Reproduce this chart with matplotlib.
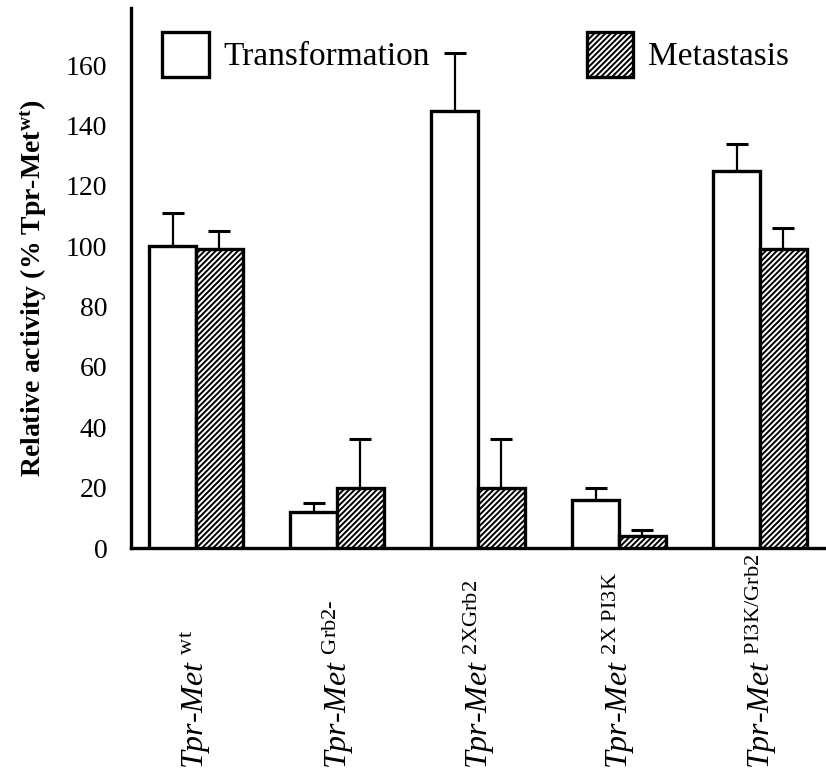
import numpy as np
import matplotlib
matplotlib.use("Agg")
from matplotlib import pyplot as plt
from matplotlib.patches import Patch

plt.rcParams['font.family'] = ['Liberation Serif', 'DejaVu Serif']
plt.rcParams['mathtext.fontset'] = 'custom'
plt.rcParams['mathtext.rm'] = 'Liberation Serif'
plt.rcParams['mathtext.bf'] = 'Liberation Serif:bold'
plt.rcParams['mathtext.it'] = 'Liberation Serif:italic'
plt.rcParams['hatch.linewidth'] = 1.4

constructs = ["wt", "Grb2-", "2XGrb2", "2X PI3K", "PI3K/Grb2"]
transformation = [100, 12, 145, 16, 125]
transformation_err = [11, 3, 19, 4, 9]
metastasis = [99, 20, 20, 4, 99]
metastasis_err = [6, 16, 16, 2, 7]
yticks = [0, 20, 40, 60, 80, 100, 120, 140, 160]

fig = plt.figure(figsize=(8.26, 7.76), dpi=100)
ax = fig.add_axes([0.1586, 0.2938, 0.8414, 0.6959])

x = np.arange(len(constructs))
w = 0.333
lw = 2.4
ax.bar(x - w / 2, transformation, w, color='white', edgecolor='black', linewidth=lw,
       yerr=[[0] * 5, transformation_err], capsize=8,
       error_kw=dict(elinewidth=1.6, capthick=2.2, ecolor='black'), zorder=3)
ax.bar(x + w / 2, metastasis, w, color='white', edgecolor='black', linewidth=lw,
       hatch='//////', yerr=[[0] * 5, metastasis_err], capsize=8,
       error_kw=dict(elinewidth=1.6, capthick=2.2, ecolor='black'), zorder=3)

ax.set_xlim(-0.461, 4.468)
ax.set_ylim(0, 179)
ax.set_yticks(yticks)
ax.set_xticks([])
ax.tick_params(axis='y', length=0, pad=17, labelsize=20)
for s in ['top', 'right']:
    ax.spines[s].set_visible(False)
ax.spines['left'].set_linewidth(2.4)
ax.spines['bottom'].set_linewidth(2.4)

ax.set_ylabel(r"Relative activity (% Tpr-Met$^{\mathbf{wt}}$)", fontsize=20, fontweight='bold')
ax.yaxis.set_label_coords(-0.118, 0.481)

# construct names below the axis, rotated
for xi, name in zip(x, constructs):
    sup = r"\text{" + name + "}"
    ax.text(xi, -0.41, r"Tpr-Met $^{" + sup + r"}$",
            transform=ax.get_xaxis_transform(), rotation=90, ha='center', va='bottom',
            fontsize=23, fontstyle='italic')

handles = [Patch(facecolor='white', edgecolor='black', linewidth=lw, label='Transformation'),
           Patch(facecolor='white', edgecolor='black', linewidth=lw, hatch='//////', label='Metastasis')]
ax.legend(handles=handles, ncol=2, loc='upper left', bbox_to_anchor=(0.0014, 1.011),
          frameon=False, fontsize=24, handlelength=1.4, handleheight=1.7,
          handletextpad=0.45, columnspacing=4.7)

fig.savefig("out.png", dpi=100)
